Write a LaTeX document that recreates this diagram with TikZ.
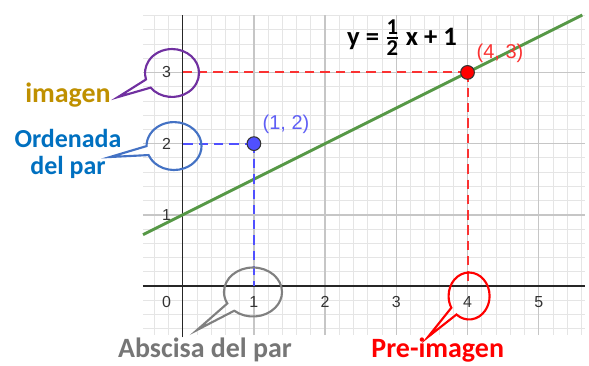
\documentclass[tikz,border=0pt]{standalone}
\usepackage{fontspec}
\setmainfont{Carlito}
\newfontfamily\geofont{Liberation Sans}
\usepackage{amsmath}
\usepackage{tikz}
\usetikzlibrary{shapes.callouts}
\definecolor{linegreen}{RGB}{86, 152, 70}
\definecolor{ptblue}{RGB}{80, 80, 255}
\definecolor{lblblue}{RGB}{95, 95, 245}
\definecolor{ptred}{RGB}{255, 0, 0}
\definecolor{lblred}{RGB}{250, 50, 50}
\definecolor{bubpurple}{RGB}{112, 48, 160}
\definecolor{bubblue}{RGB}{68, 114, 196}
\definecolor{txtgold}{RGB}{191, 144, 0}
\definecolor{txtblue}{RGB}{0, 112, 192}
\definecolor{bubgray}{RGB}{128, 128, 128}
\definecolor{txtgray}{RGB}{118, 118, 118}

\begin{document}
\begin{tikzpicture}[x=1.88cm, y=1.88cm,
    ticklab/.style={font=\geofont\fontsize{12}{13}\selectfont, text=black!80, inner sep=0pt},
    ptlab/.style={font=\geofont\fontsize{15}{16}\selectfont, inner sep=0pt},
    dot/.style={circle, draw=black!80, line width=0.8pt, minimum size=10.3pt, inner sep=0pt},
    bubble/.style={ellipse callout, draw, line width=1.6pt, inner sep=0pt, callout pointer arc=22},
    tag/.style={font=\bfseries\fontsize{21}{24}\selectfont, inner sep=0pt, anchor=base}]
        \useasboundingbox (-2.566,-1.110) rectangle (5.706,4.017);
        % grid and axes
        \draw[gray!20, line width=0.6pt, step=0.2] (-0.558,-0.688) grid (5.65,3.806);
        \draw[gray!45, line width=1.1pt, step=1]   (-0.558,-0.688) grid (5.65,3.806);
        \draw[black!85, line width=1.1pt] (-0.558,0) -- (5.65,0);
        \draw[black!85, line width=1.1pt] (0,-0.72) -- (0,3.806);
        \node[ticklab] (xt0) at (-0.225,-0.23) {0};
        \foreach \k in {1,...,5}
          \node[ticklab] (xt\k) at (\k,-0.23) {\k};
        \foreach \k in {1,2,3}
          \node[ticklab] (yt\k) at (-0.225,\k) {\k};
        % line y = x/2 + 1
        \draw[linegreen, line width=2.2pt] (-0.558,0.721) -- (5.612,3.806);
        % points and projections
        \coordinate (ya) at (0,2);
        \coordinate (xa) at (1,0);
        \coordinate (yb) at (0,3);
        \coordinate (xb) at (4,0);
        \draw[ptblue, line width=1.5pt, dash pattern=on 7pt off 4.5pt] (1,2) -- (ya);
        \draw[ptblue, line width=1.5pt, dash pattern=on 7pt off 4.5pt] (1,2) -- (xa);
        \draw[lblred, line width=1.5pt, dash pattern=on 7pt off 4.5pt] (4,3) -- (yb);
        \draw[lblred, line width=1.5pt, dash pattern=on 7pt off 4.5pt] (4,3) -- (xb);
        \node[dot, fill=ptblue] (pa) at (1,2) {};
        \node[dot, fill=ptred]  (pb) at (4,3) {};
        \node[ptlab, text=lblblue] (pal) at (1.451,2.275) {(1, 2)};
        \node[ptlab, text=lblred]  (pbl) at (4.456,3.272) {(4, 3)};
        \node[anchor=base, inner sep=0pt] (eqn) at (3.08,3.385)
          {\fontsize{20}{22}\selectfont\bfseries y = $\genfrac{}{}{1.3pt}{}{\text{\fontsize{17}{18}\selectfont\bfseries 1}}{\text{\fontsize{17}{18}\selectfont\bfseries 2}}$ x + 1};
        % labels and bubbles
        \node[tag, text=txtgold] (imgtext) at (-1.611,2.584) {imagen};
        \node[font=\bfseries\fontsize{19.5}{20.3}\selectfont, text=txtblue, align=center, inner sep=0pt]
          (ordtext) at (-1.611,1.854) {Ordenada\\del par};
        \node[tag, text=txtgray] (abstext) at (0.313,-1.0) {Abscisa del par};
        \node[tag, text=ptred]   (pretext) at (3.582,-1.0) {Pre-imagen};
        \coordinate (imgtip) at (-0.909,2.654);
        \coordinate (ordtip) at (-1.021,1.812);
        \coordinate (abstip) at (0.201,-0.618);
        \coordinate (pretip) at (3.444,-0.716);
        \node[bubble, draw=bubpurple, minimum width=40.6pt, minimum height=36pt,
          callout absolute pointer=(imgtip)] (imgbub) at (-0.150,2.992) {};
        \node[bubble, draw=bubblue, minimum width=41.3pt, minimum height=36pt,
          callout absolute pointer=(ordtip)] (ordbub) at (-0.122,1.966) {};
        \node[bubble, draw=bubgray, minimum width=43.6pt, minimum height=36.8pt,
          callout absolute pointer=(abstip)] (absbub) at (0.987,-0.084) {};
        \node[bubble, draw=ptred, minimum width=30.8pt, minimum height=35.3pt,
          callout absolute pointer=(pretip)] (prebub) at (4.022,-0.140) {};
\end{tikzpicture}
\end{document}
